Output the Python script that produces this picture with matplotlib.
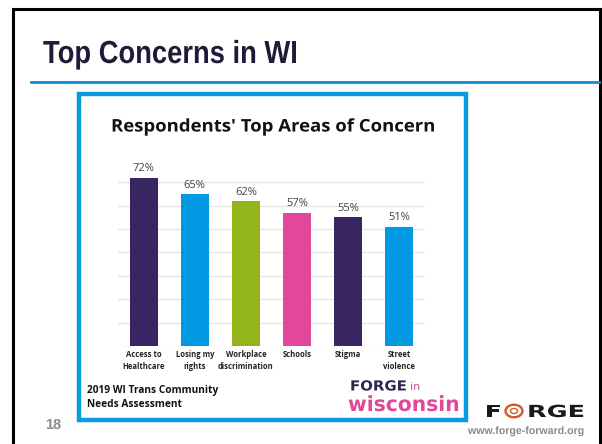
import matplotlib.pyplot as plt
from matplotlib.patches import Rectangle, Circle
from matplotlib.lines import Line2D
from matplotlib.patheffects import AbstractPathEffect
from matplotlib.transforms import Affine2D

# data
categories = ['Access to\nHealthcare', 'Losing my\nrights', 'Workplace\ndiscrimination',
              'Schools', 'Stigma', 'Street\nviolence']
values = [72, 65, 62, 57, 55, 51]
bar_colors = ['#382561', '#0099e2', '#93b51b', '#e2489a', '#382561', '#0099e2']
grid_ticks = [0, 10, 20, 30, 40, 50, 60, 70]

W, H = 602, 444


def fx(px):
    return px / W


def fy(py):
    return 1 - py / H


class HScale(AbstractPathEffect):
    """squeeze / stretch glyphs horizontally around x0 (display px)"""

    def __init__(self, sx, x0):
        super().__init__()
        self.sx = sx
        self.x0 = x0

    def draw_path(self, renderer, gc, tpath, affine, rgbFace=None):
        t = affine + Affine2D().translate(-self.x0, 0).scale(self.sx, 1).translate(self.x0, 0)
        renderer.draw_path(gc, tpath, t, rgbFace)


fig = plt.figure(figsize=(W / 100, H / 100), dpi=100)
fig.patch.set_facecolor('white')
to_fit = []  # (text, target width px)

# slide frame
fig.add_artist(Line2D([fx(12.5), fx(12.5)], [fy(444), fy(9.5)], color='black', lw=2.2))
fig.add_artist(Line2D([fx(12.5), fx(599.5)], [fy(9.5), fy(9.5)], color='black', lw=2.2))
fig.add_artist(Line2D([fx(599.5), fx(599.5)], [fy(9.5), fy(444)], color='black', lw=2.2))

# slide title + rule
t = fig.text(fx(43), fy(63), 'Top Concerns in WI', fontsize=23, fontweight='bold',
             family='Liberation Sans', color='#201a38', va='baseline')
to_fit.append((t, 255))
fig.add_artist(Line2D([fx(31), fx(599)], [fy(82), fy(82)], color='#0a8fd6', lw=2))

# blue box around the chart image
fig.add_artist(Rectangle((fx(79), fy(420)), fx(466) - fx(79), fy(94) - fy(420),
                         transform=fig.transFigure, fill=False, ec='#0a9ae2', lw=3.2))

t = fig.text(fx(111), fy(131.5), "Respondents' Top Areas of Concern", fontsize=12.5,
             fontweight='bold', family='Open Sans', va='baseline', color='#111111')
to_fit.append((t, 324))

# bar chart
ax = fig.add_axes([fx(118), fy(346), fx(425) - fx(118), fy(159) - fy(346)])
x = range(len(categories))
ax.bar(x, values, width=0.55, color=bar_colors, zorder=3)
for xi, v in zip(x, values):
    ax.text(xi, v + 1.5, f'{v}%', ha='center', va='bottom', fontsize=8,
            family='Open Sans', color='#444444')
for g in grid_ticks:
    ax.axhline(g, color='#e4e4e4', lw=0.9, zorder=1)
ax.set_xlim(-0.5, 5.5)
ax.set_ylim(0, 80)
ax.set_yticks([])
ax.set_xticks(list(x))
ax.set_xticklabels(categories, fontsize=5.5, fontweight='bold', family='Open Sans',
                   color='#222222', linespacing=1.45)
ax.tick_params(axis='x', length=0, pad=3)
for s in ax.spines.values():
    s.set_visible(False)

# footer of the chart image
fig.text(fx(87), fy(397.5), '2019 WI Trans Community\nNeeds Assessment', fontsize=7.3,
         fontweight='bold', family='Open Sans', color='#111111', va='center',
         linespacing=1.45)
t = fig.text(fx(350), fy(390.5), 'FORGE', fontsize=10, fontweight='bold', family='DejaVu Sans',
             color='#2e2450', va='baseline')
to_fit.append((t, 57))
fig.text(fx(410), fy(390.5), 'in', fontsize=8, family='DejaVu Sans', color='#e2489a',
         va='baseline')
t = fig.text(fx(348), fy(411), 'wisconsin', fontsize=15, fontweight='bold',
             family='DejaVu Sans', color='#e2489a', va='baseline')
to_fit.append((t, 112))

# slide number and footer logo
fig.text(fx(45), fy(429), '18', fontsize=10.5, fontweight='bold', family='Liberation Sans',
         color='#8a8a8a', va='baseline')
t = fig.text(fx(485), fy(417), 'F', fontsize=12, fontweight='bold', family='DejaVu Sans',
             color='#1a1a1a', va='baseline')
to_fit.append((t, 17))
fig.add_artist(Circle((fx(514), fy(411)), 8.5 / W, transform=fig.transFigure,
                      fill=False, ec='#d35a27', lw=1.7))
fig.add_artist(Circle((fx(514), fy(411)), 3.5 / W, transform=fig.transFigure,
                      fill=False, ec='#d35a27', lw=1.0))
t = fig.text(fx(527), fy(417), 'RGE', fontsize=12, fontweight='bold', family='DejaVu Sans',
             color='#1a1a1a', va='baseline')
to_fit.append((t, 58))
t = fig.text(fx(468), fy(434), 'www.forge-forward.org', fontsize=7.8, fontweight='bold',
             family='Liberation Sans', color='#8a8a8a', va='baseline')
to_fit.append((t, 117))

# squeeze the texts whose fonts are wider/narrower than the slide's
renderer = fig.canvas.get_renderer()
for txt, target in to_fit:
    bb = txt.get_window_extent(renderer)
    txt.set_path_effects([HScale(target / bb.width, bb.x0)])

fig.savefig('out.png', dpi=100)
